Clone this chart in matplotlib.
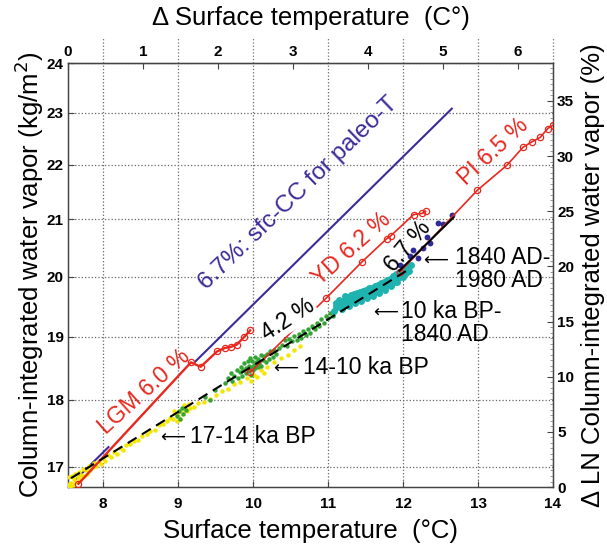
import matplotlib
matplotlib.use('Agg')
import matplotlib.pyplot as plt
import matplotlib.transforms as mtransforms
from matplotlib.ticker import FixedLocator, NullLocator, MultipleLocator, FormatStrFormatter

plt.rcParams['font.family'] = ['Liberation Sans', 'DejaVu Sans']

# Surface temperature (C) and Delta-LN water vapor (%) for each record

# 17-14 ka BP
yel_T = [7.53, 7.54, 7.55, 7.56, 7.57, 7.58, 7.60, 7.61, 7.63, 7.64, 7.66, 7.68, 7.69, 7.71,
         7.73, 7.75, 7.77, 7.79, 7.81, 7.83, 7.86, 7.88, 7.91, 7.94, 7.97, 8.00, 8.03, 8.07,
         8.10, 8.14, 8.18, 8.22, 8.26, 8.31, 8.36, 8.41, 8.46, 8.52, 8.58, 8.63, 8.69, 8.74,
         8.80, 8.85, 8.89, 8.93, 8.95, 8.97, 8.98, 9.00, 9.02, 9.03, 9.06, 9.08, 9.09, 9.12,
         9.14, 9.16, 9.21, 9.27, 9.34, 9.42, 9.50, 9.58, 9.66, 9.74, 9.83, 9.92, 9.97, 10.01,
         10.05, 10.10, 10.15, 10.19, 10.28, 10.37, 10.46, 10.55, 10.62]
yel_P = [0.1, 0.3, 0.9, 0.0, 0.4, 1.0, 0.2, 0.7, 1.2, 0.5, 0.9, 1.4, 0.6, 1.1,
         1.6, 1.0, 1.5, 1.2, 1.9, 1.5, 1.8, 2.2, 1.9, 2.4, 2.1, 2.6, 2.4, 2.9,
         2.7, 3.2, 3.0, 3.5, 3.4, 3.8, 3.9, 4.2, 4.3, 4.6, 4.8, 5.1, 5.2, 5.6,
         5.7, 6.0, 6.3, 6.2, 6.9, 6.6, 6.0, 6.4, 6.2, 6.9, 6.7, 7.4, 7.1, 6.9,
         7.5, 7.2, 7.3, 7.6, 7.7, 8.0, 8.3, 8.7, 8.9, 9.3, 9.5, 9.9, 9.6, 10.2,
         10.0, 10.6, 10.3, 10.9, 11.3, 11.7, 12.0, 12.4, 12.8]

# 14-10 ka BP
grn_T = [8.98, 9.01, 9.03, 9.05, 9.07, 9.10, 9.36, 9.43, 9.49, 9.63,
         9.66, 9.70, 9.72, 9.75, 9.78, 9.80, 9.82, 9.84, 9.85, 9.87, 9.88, 9.90, 9.91, 9.93,
         9.94, 9.95, 9.96, 9.97, 9.98, 9.99, 10.00, 10.01, 10.02, 10.03, 10.04, 10.06, 10.07,
         10.08, 10.10, 10.11, 10.13, 10.15, 10.17, 10.19, 10.21, 10.23, 10.26, 10.28, 10.31,
         10.34, 10.38, 10.42, 10.45, 10.48, 10.52, 10.55, 10.58, 10.61, 10.64, 10.67, 10.70,
         10.73, 10.76, 10.79, 10.82, 10.85, 10.88, 10.91, 10.94, 10.97, 11.00, 11.03, 11.06,
         11.09]
grn_P = [6.4, 6.9, 6.2, 7.2, 6.6, 7.0, 8.2, 7.9, 8.8, 9.4,
         9.9, 10.3, 9.6, 10.1, 10.6, 9.9, 10.4, 10.9, 10.1, 10.6, 11.2, 10.3, 10.8, 11.4,
         10.5, 11.0, 11.7, 10.2, 10.9, 11.4, 10.6, 11.1, 11.8, 10.8, 11.3, 10.9, 11.6,
         11.2, 12.0, 11.0, 11.5, 11.9, 11.3, 12.1, 11.6, 12.3, 11.8, 12.4, 12.1,
         12.6, 12.9, 13.3, 12.8, 13.4, 13.2, 13.7, 13.3, 13.9, 13.5, 14.1, 13.8,
         14.3, 14.0, 14.6, 14.3, 14.9, 14.6, 15.2, 14.9, 15.5, 15.3, 15.8, 15.5,
         16.1]

# 10 ka BP - 1840 AD
cyn_T = [11.08, 11.10, 11.11, 11.12, 11.14, 11.15, 11.16, 11.18, 11.19, 11.20, 11.22, 11.23,
         11.24, 11.26, 11.27, 11.28, 11.30, 11.31, 11.32, 11.34, 11.35, 11.36, 11.38, 11.39,
         11.40, 11.42, 11.43, 11.44, 11.46, 11.47, 11.48, 11.50, 11.51, 11.52, 11.54, 11.55,
         11.56, 11.58, 11.59, 11.60, 11.62, 11.63, 11.64, 11.66, 11.67, 11.68, 11.70, 11.71,
         11.72, 11.74, 11.75, 11.76, 11.78, 11.79, 11.80, 11.82, 11.83, 11.84, 11.86, 11.87,
         11.88, 11.90, 11.91, 11.92, 11.94, 11.95, 11.96, 11.98, 11.99, 12.00, 12.02, 12.03,
         12.04, 12.06, 12.07, 12.08, 12.10]
cyn_P = [16.0, 16.7, 16.4, 16.3, 17.0, 16.8, 16.5, 16.1, 16.6, 16.9, 17.3, 16.9,
         16.6, 17.0, 17.2, 16.4, 17.4, 17.0, 16.9, 17.2, 17.5, 16.7, 17.6, 17.3,
         17.1, 17.4, 17.7, 16.9, 17.8, 17.5, 17.3, 17.6, 17.9, 17.1, 18.0, 17.7,
         17.5, 17.8, 18.0, 17.3, 18.2, 17.9, 17.7, 18.0, 18.3, 17.6, 18.5, 18.2,
         18.0, 18.3, 18.6, 17.9, 18.8, 18.5, 18.3, 18.7, 18.9, 18.2, 19.1, 18.8,
         18.6, 19.0, 19.3, 18.6, 19.5, 19.2, 19.0, 19.4, 19.6, 19.0, 19.8, 19.6,
         19.4, 19.9, 20.0, 19.6, 20.1]

# 1840 AD - 1980 AD
ad_T = [11.96, 12.09, 12.13, 12.20, 12.27, 12.32, 12.36, 12.47, 12.53, 12.65]
ad_P = [20.1, 20.9, 21.5, 20.8, 21.7, 22.7, 22.1, 23.9, 23.8, 24.7]

# model time slices
lgm_T = [7.67, 9.17, 9.30, 9.52, 9.62, 9.70, 9.78, 9.88, 9.96]
lgm_P = [0.3, 11.3, 10.9, 12.3, 12.6, 12.7, 12.9, 13.6, 14.2]
yd_T = [9.96, 10.97, 11.45, 11.78, 11.84, 12.14, 12.25, 12.30]
yd_P = [10.4, 17.1, 20.4, 22.5, 22.8, 24.7, 24.8, 25.0]
pi_T = [11.96, 12.99, 13.39, 13.60, 13.72, 13.83, 13.93, 14.00]
pi_P = [19.5, 26.9, 29.2, 30.8, 31.3, 31.7, 32.5, 32.8]

# regression / scaling lines (the 6.7 %/K sfc-CC line is drawn in two pieces)
cc_T = [7.62, 8.07, float('nan'), 9.22, 12.65]
cc_P = [0.6, 3.62, float('nan'), 11.32, 34.3]
holo_T = [7.57, 12.10]      # 4.2 %/K fit to 17 ka BP - 1840 AD
holo_P = [0.8, 19.83]
ind_T = [11.95, 12.67]      # 6.7 %/K fit to 1840 - 1980 AD
ind_P = [19.6, 24.42]

# axes ranges and ticks
t_lim = (7.53, 14.0)
wv_lim = (16.71, 24.0)
dln_lim = (0.0, 38.44)
t_ticks = [8, 9, 10, 11, 12, 13, 14]
dt_ticks = [0, 1, 2, 3, 4, 5, 6]
wv_ticks = [17, 18, 19, 20, 21, 22, 23, 24]
dln_ticks = [0, 5, 10, 15, 20, 25, 30, 35]

RED = '#e8281e'
NAVY = '#3b2b98'
AXC = '#444444'
LABEL_FS = 18.5
TXT_FS = 16.5
ARROW = dict(fontsize=12.5, family=['DejaVu Sans'], ha='left', va='center', zorder=6)

fig = plt.figure(figsize=(6.07, 5.46), dpi=100)
ax = fig.add_axes([0.112, 0.108, 0.799, 0.7766])
ax.set_xlim(*t_lim)
ax.set_yscale('log')
ax.set_ylim(*wv_lim)
ax.xaxis.set_major_locator(FixedLocator(t_ticks))
ax.yaxis.set_major_locator(FixedLocator(wv_ticks))
ax.yaxis.set_minor_locator(NullLocator())
ax.yaxis.set_major_formatter(FormatStrFormatter('%d'))
ax.yaxis.set_minor_formatter(plt.NullFormatter())
ax.grid(True, which='major', linestyle=':', color='#666666', linewidth=0.9)
ax.tick_params(direction='in', length=4, width=0.8, color=AXC, labelsize=11)
ax.tick_params(axis='x', pad=7)
ax.tick_params(axis='y', pad=3)
for lab in ax.get_xticklabels() + ax.get_yticklabels():
    lab.set_fontweight('bold')
for s in ax.spines.values():
    s.set_color(AXC)
    s.set_linewidth(1.0)

# dotted grid stubs poking above the top frame
trans = mtransforms.blended_transform_factory(ax.transData, ax.transAxes)
for t in t_ticks:
    ax.plot([t, t], [1.0, 1.058], transform=trans, ls=':', color='#777777',
            lw=0.9, clip_on=False)

ax.set_xlabel('Surface temperature  (\u00b0C)', fontsize=LABEL_FS, va='center')
ax.xaxis.set_label_coords(0.5, -0.104)
ax.set_ylabel('Column-integrated water vapor (kg/m$^2$)', fontsize=LABEL_FS, va='center')
ax.yaxis.set_label_coords(-0.079, 0.5)

# top axis: temperature change from the coldest state
top = ax.secondary_xaxis('top', functions=(lambda t: t - t_lim[0], lambda d: d + t_lim[0]))
top.xaxis.set_major_locator(FixedLocator(dt_ticks))
top.tick_params(direction='in', length=4, width=0.8, color=AXC, labelsize=11, pad=3)
for lab in top.get_xticklabels():
    lab.set_fontweight('bold')
top.spines['top'].set_color(AXC)
top.set_xlabel('\u0394 Surface temperature  (C\u00b0)', fontsize=LABEL_FS, labelpad=14)

# right axis: log change in water vapor, all data drawn here
axr = ax.twinx()
axr.set_ylim(*dln_lim)
axr.yaxis.set_major_locator(FixedLocator(dln_ticks))
axr.yaxis.set_minor_locator(MultipleLocator(0.5))
axr.tick_params(which='major', direction='in', length=4, width=0.8, color=AXC,
                labelsize=11, pad=3)
axr.tick_params(which='minor', direction='in', length=2, width=0.6, color='#888888')
for lab in axr.get_yticklabels():
    lab.set_fontweight('bold')
for s in axr.spines.values():
    s.set_color(AXC)
axr.set_ylabel('\u0394 LN Column-integrated water vapor (%)', fontsize=LABEL_FS,
               rotation=90, va='center')
axr.yaxis.set_label_coords(1.0825, 0.5)

axr.plot(cc_T, cc_P, color=NAVY, lw=1.5, zorder=2)

axr.plot(yel_T, yel_P, 'o', color='#f4e600', ms=3.2, mew=0, zorder=3)
axr.plot(grn_T, grn_P, 'o', color='#34a534', ms=3.2, mew=0, zorder=3)
axr.plot(cyn_T, cyn_P, 'o', color='#1fb3b0', ms=5.0, mew=0, zorder=3)
axr.plot(ad_T, ad_P, 'o', color='#2d2a9a', ms=4.2, mew=0, zorder=4)

axr.plot(lgm_T, lgm_P, '-o', color=RED, lw=1.7, ms=4.5, mfc='none', mew=0.9, zorder=4)
for T, P in [(yd_T, yd_P), (pi_T, pi_P)]:
    axr.plot(T, P, '-o', color=RED, lw=1.2, ms=4.5, mfc='none', mew=0.9, zorder=4)

axr.plot(holo_T, holo_P, '--', color='black', lw=1.5, dashes=(5, 3), zorder=5)
axr.plot(ind_T, ind_P, '-', color='black', lw=1.5, zorder=5)

# slope labels
wbox = dict(facecolor='white', edgecolor='none', pad=0.6)
axr.text(10.60, 26.6, '6.7%: sfc-CC for paleo-T', color=NAVY, fontsize=17.5, rotation=44,
         ha='center', va='center', rotation_mode='anchor', zorder=6)
axr.text(8.55, 8.6, 'LGM 6.0 %', color=RED, fontsize=TXT_FS, rotation=42,
         ha='center', va='center', rotation_mode='anchor', zorder=6)
axr.text(11.32, 21.6, 'YD 6.2 %', color=RED, fontsize=TXT_FS, rotation=42,
         ha='center', va='center', rotation_mode='anchor', zorder=6)
axr.text(10.47, 15.2, '4.2 %', color='black', fontsize=TXT_FS, rotation=33,
         ha='center', va='center', rotation_mode='anchor', bbox=wbox, zorder=6)
axr.text(12.07, 21.8, '6.7 %', color='black', fontsize=TXT_FS, rotation=50,
         ha='center', va='center', rotation_mode='anchor', zorder=6)
axr.text(13.20, 30.4, 'PI 6.5 %', color=RED, fontsize=TXT_FS, rotation=43,
         ha='center', va='center', rotation_mode='anchor', zorder=6)

# period annotations
axr.text(8.76, 4.5, '\u27f5', **ARROW)
axr.text(9.16, 4.6, '17-14 ka BP', fontsize=TXT_FS, ha='left', va='center', zorder=6)
axr.text(10.27, 10.7, '\u27f5', **ARROW)
axr.text(10.67, 10.8, '14-10 ka BP', fontsize=TXT_FS, ha='left', va='center', zorder=6)
axr.text(11.60, 15.8, '\u27f5', **ARROW)
axr.text(11.97, 14.9, '10 ka BP-\n1840 AD', fontsize=TXT_FS, ha='left', va='center',
         linespacing=1.0, zorder=6)
axr.text(12.27, 20.5, '\u27f5', **ARROW)
axr.text(12.69, 19.8, '1840 AD-\n1980 AD', fontsize=TXT_FS, ha='left', va='center',
         linespacing=1.0, zorder=6)

fig.savefig('out.png', dpi=100)
